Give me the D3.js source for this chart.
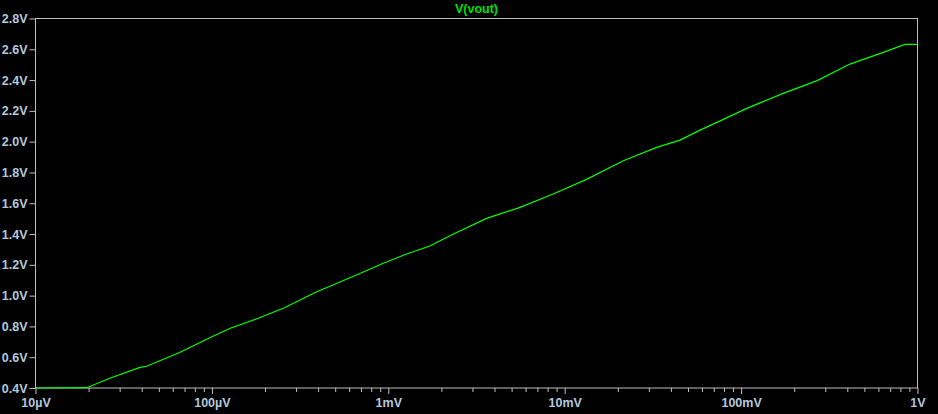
<!DOCTYPE html>
<html><head><meta charset="utf-8">
<script src="https://cdn.jsdelivr.net/npm/d3@7"></script>
<style>html,body{margin:0;padding:0;background:#000;}svg{display:block;}</style>
</head><body>
<script>
const title = "V(vout)";
const xValues = [1e-5, 1.95e-5, 2.64e-5, 3.91e-5, 4.27e-5, 6.6e-5, 1.02e-4, 1.27e-4, 1.83e-4, 2.54e-4, 3.93e-4, 6.07e-4, 9.37e-4, 1.27e-3, 1.72e-3, 2.34e-3, 3.61e-3, 5.58e-3, 8.6e-3, 1.33e-2, 2.15e-2, 3.32e-2, 4.51e-2, 5.85e-2, 7.93e-2, 0.1076, 0.173, 0.268, 0.414, 0.640, 0.849, 1.0];
const yValues = [0.400, 0.402, 0.463, 0.534, 0.541, 0.632, 0.738, 0.788, 0.853, 0.918, 1.025, 1.116, 1.210, 1.270, 1.322, 1.400, 1.502, 1.573, 1.660, 1.755, 1.876, 1.963, 2.010, 2.075, 2.145, 2.216, 2.314, 2.395, 2.504, 2.580, 2.632, 2.632];
const xTickValues = [1e-5, 1e-4, 1e-3, 1e-2, 1e-1, 1];
const xTickLabels = ["10µV", "100µV", "1mV", "10mV", "100mV", "1V"];
const yTickValues = [0.4, 0.6, 0.8, 1.0, 1.2, 1.4, 1.6, 1.8, 2.0, 2.2, 2.4, 2.6, 2.8];
const yTickLabels = ["0.4V", "0.6V", "0.8V", "1.0V", "1.2V", "1.4V", "1.6V", "1.8V", "2.0V", "2.2V", "2.4V", "2.6V", "2.8V"];

const W = 938, H = 414;
const L = 35.5, R = 917.5, T = 18.5, B = 388.5;
const svg = d3.select("body").append("svg").attr("width", W).attr("height", H);
svg.append("rect").attr("width", W).attr("height", H).attr("fill", "#000");

const x = d3.scaleLog().domain([1e-5, 1]).range([L, R]);
const y = d3.scaleLinear().domain([0.4, 2.8]).range([B - 0.5, T]);

const axisCol = "#c0c0c0", textCol = "#b4c8dc";
const font = "'Liberation Sans', Arial, sans-serif";

// frame
svg.append("rect").attr("x", L).attr("y", T).attr("width", R - L).attr("height", B - 0.5 - T)
  .attr("fill", "none").attr("stroke", axisCol).attr("stroke-width", 1);

// y axis
const yAxis = d3.axisLeft(y).tickValues(yTickValues).tickSize(6).tickPadding(2)
  .tickFormat((d, i) => yTickLabels[i]);
const gy = svg.append("g").attr("transform", `translate(${L},0)`).call(yAxis);
gy.select(".domain").remove();
gy.selectAll("line").attr("stroke", axisCol);
gy.selectAll("text").attr("fill", textCol).attr("font-family", font).attr("font-size", 12.5).attr("font-weight", "bold");

// x minor ticks
const minor = [];
for (let e = -5; e < 0; e++) for (let m = 2; m <= 9; m++) minor.push(m * Math.pow(10, e));
const gxm = svg.append("g").attr("transform", `translate(0,${B - 0.5})`)
  .call(d3.axisBottom(x).tickValues(minor).tickSize(4).tickFormat(""));
gxm.select(".domain").remove();
gxm.selectAll("line").attr("stroke", axisCol);

// x major
const gx = svg.append("g").attr("transform", `translate(0,${B - 0.5})`)
  .call(d3.axisBottom(x).tickValues(xTickValues).tickSize(6).tickPadding(4)
    .tickFormat((d, i) => xTickLabels[i]));
gx.select(".domain").remove();
gx.selectAll("line").attr("stroke", axisCol);
gx.selectAll("text").attr("fill", textCol).attr("font-family", font).attr("font-size", 12.5).attr("font-weight", "bold");

// title
svg.append("text").attr("x", (L + R) / 2).attr("y", 13).attr("text-anchor", "middle")
  .attr("fill", "#00e000").attr("font-family", font).attr("font-size", 12.5).attr("font-weight", "bold").text(title);

// line
const data = xValues.map((v, i) => [v, yValues[i]]);
svg.append("path").datum(data)
  .attr("fill", "none").attr("stroke", "#00ff00").attr("stroke-width", 1.2)
  .attr("d", d3.line().x(d => x(d[0])).y(d => y(d[1])));
</script>
</body></html>
